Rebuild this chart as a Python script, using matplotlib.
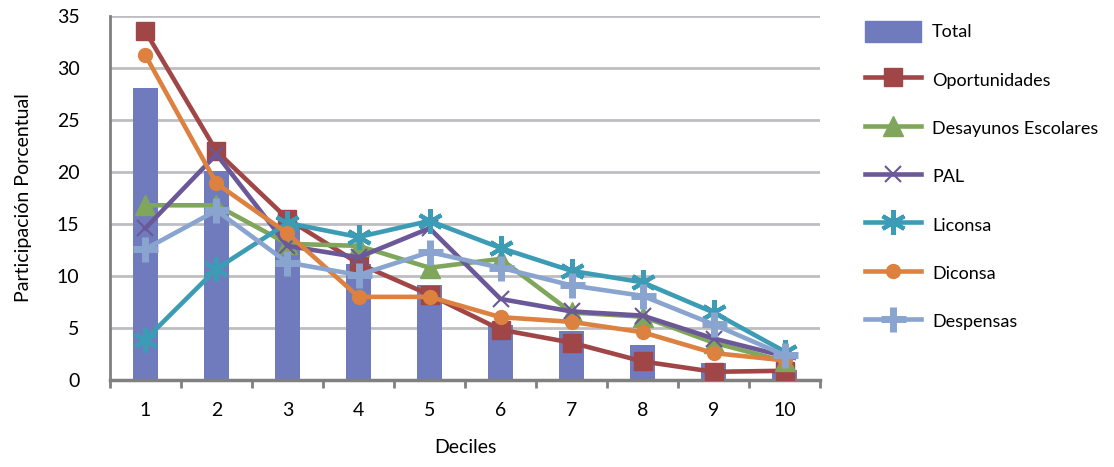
import numpy as np
import matplotlib
matplotlib.use("Agg")
import matplotlib.pyplot as plt
from matplotlib.patches import Patch
from matplotlib.lines import Line2D

plt.rcParams['font.family'] = ['Lato', 'DejaVu Sans']

deciles = ['1', '2', '3', '4', '5', '6', '7', '8', '9', '10']
total = [28.1, 20.1, 14.9, 11.2, 9.1, 5.3, 4.7, 3.4, 1.6, 1.0]
oportunidades = [33.5, 22.0, 15.5, 11.2, 8.2, 4.85, 3.6, 1.8, 0.8, 0.9]
desayunos = [16.8, 16.8, 13.1, 12.9, 10.8, 11.65, 6.5, 6.1, 3.6, 1.8]
pal = [14.6, 21.7, 12.9, 11.8, 14.6, 7.8, 6.6, 6.2, 4.0, 2.3]
liconsa = [3.9, 10.7, 15.1, 13.75, 15.3, 12.7, 10.5, 9.4, 6.5, 2.75]
diconsa = [31.2, 18.9, 14.1, 8.0, 8.0, 6.05, 5.6, 4.6, 2.6, 1.9]
despensas = [12.6, 16.3, 11.3, 10.1, 12.3, 10.8, 9.1, 8.1, 5.35, 2.4]

x = np.arange(1, len(deciles) + 1)

fig = plt.figure(figsize=(11.14, 4.67), dpi=100)
ax = fig.add_axes([0.0987, 0.186, 0.6375, 0.780])

ax.bar(x, total, width=0.36, color='#6F7BBD', zorder=2)

lw = 3.3
ax.plot(x, oportunidades, color='#A04646', lw=lw, marker='s', ms=13, zorder=3)
ax.plot(x, desayunos, color='#7FA65A', lw=lw, marker='^', ms=14, zorder=3)
ax.plot(x, pal, color='#6B5898', lw=lw, marker='x', ms=12, mew=1.5, zorder=3)
ax.plot(x, liconsa, color='#3C9CB5', lw=lw, marker=(6, 2, 0), ms=18, mew=3, zorder=3)
ax.plot(x, diconsa, color='#DC8140', lw=lw, marker='o', ms=10, zorder=3)
ax.plot(x, despensas, color='#8AA4D0', lw=lw, marker='+', ms=18, mew=5, zorder=3)

ax.set_xlim(0.5, 10.5)
ax.set_ylim(0, 35)
ax.set_yticks(np.arange(0, 36, 5))
ax.set_xticks(x)
ax.set_xticklabels(deciles)
ax.set_xticks(np.arange(0.5, 11, 1), minor=True)
ax.tick_params(axis='x', which='major', length=0, labelsize=14, pad=16)
ax.tick_params(axis='x', which='minor', length=6, width=2, color='#808080')
ax.tick_params(axis='y', length=0, labelsize=14, pad=22)
ax.grid(axis='y', color='#BEBEC2', lw=2, zorder=0)
ax.set_axisbelow(True)
for s in ['top', 'right']:
    ax.spines[s].set_visible(False)
ax.spines['left'].set_color('#808080')
ax.spines['left'].set_linewidth(2)
ax.spines['bottom'].set_color('#808080')
ax.spines['bottom'].set_linewidth(2.5)

ax.set_xlabel('Deciles', fontsize=14, labelpad=14)
ax.set_ylabel('Participación Porcentual', fontsize=14, labelpad=18)

handles = [
    Patch(color='#6F7BBD'),
    Line2D([], [], color='#A04646', lw=lw, marker='s', ms=13),
    Line2D([], [], color='#7FA65A', lw=lw, marker='^', ms=14),
    Line2D([], [], color='#6B5898', lw=lw, marker='x', ms=12, mew=1.5),
    Line2D([], [], color='#3C9CB5', lw=lw, marker=(6, 2, 0), ms=18, mew=3),
    Line2D([], [], color='#DC8140', lw=lw, marker='o', ms=10),
    Line2D([], [], color='#8AA4D0', lw=lw, marker='+', ms=18, mew=5),
]
labels = ['Total', 'Oportunidades', 'Desayunos Escolares', 'PAL', 'Liconsa', 'Diconsa', 'Despensas']
fig.legend(handles, labels, loc='upper left', bbox_to_anchor=(0.762, 0.99), frameon=False,
           fontsize=13, handlelength=3.1, handleheight=1.4, labelspacing=1.52, handletextpad=0.6)

fig.savefig('out.png', dpi=100)
